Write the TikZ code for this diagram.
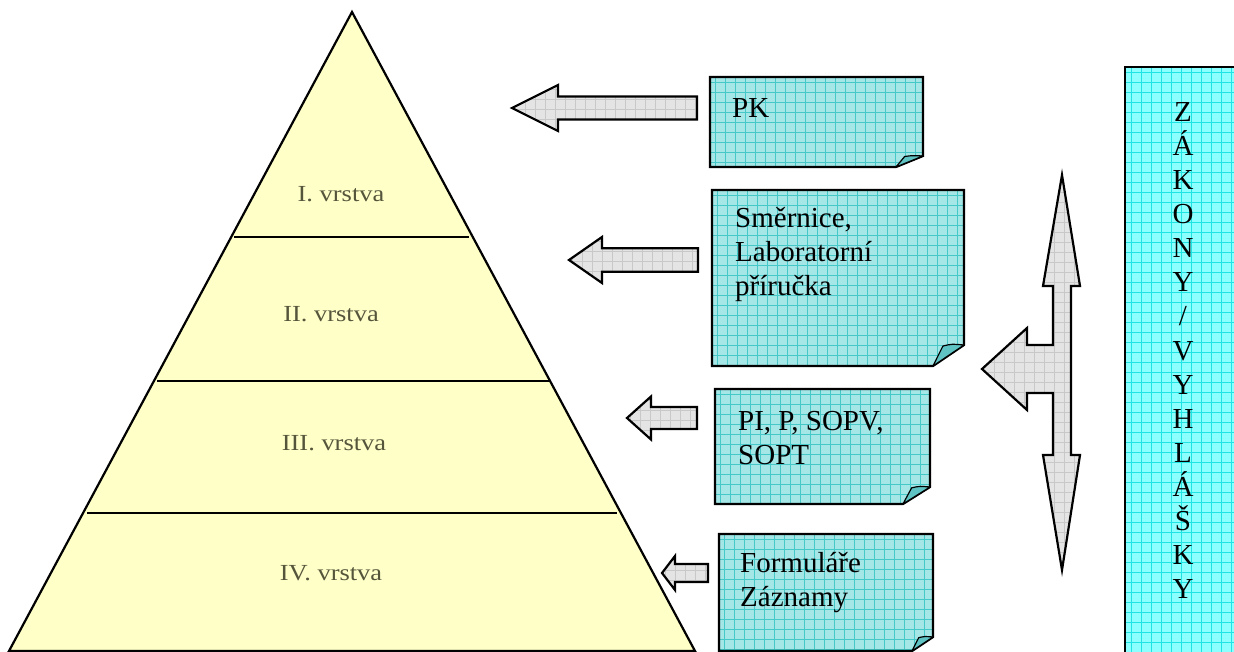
\documentclass[tikz,border=0pt]{standalone}
\usepackage{fontspec}
\setmainfont{Liberation Serif}
\newfontfamily\lblfont[FakeStretch=1.15]{Liberation Serif}
\definecolor{pyrfill}{RGB}{255,255,200}
\definecolor{lbltext}{RGB}{85,85,60}
\definecolor{notefillc}{RGB}{165,230,230}
\definecolor{notegridc}{RGB}{70,200,200}
\definecolor{foldc}{RGB}{95,195,195}
\definecolor{colfillc}{RGB}{140,255,255}
\definecolor{colgridc}{RGB}{30,228,228}
\definecolor{arrfillc}{RGB}{228,228,228}
\definecolor{arrgridc}{RGB}{200,200,200}
\tikzset{
  outline/.style={draw=black, line width=2.2pt, line join=miter},
  layerline/.style={draw=black, line width=1.8pt},
  lbl/.style={font=\lblfont\fontsize{23}{27}\selectfont, text=lbltext, anchor=base, inner sep=0pt},
  notetext/.style={font=\fontsize{29}{34}\selectfont, anchor=base west, inner sep=0pt},
  coltext/.style={font=\fontsize{29}{34}\selectfont, anchor=base, inner sep=0pt},
  notegrid/.style={draw=notegridc, line width=0.8pt},
  arrgrid/.style={draw=arrgridc, line width=0.7pt},
  colgrid/.style={draw=colgridc, line width=0.8pt}
}
% note: #1 L, #2 T, #3 R, #4 B, #5 dx, #6 dy
\newcommand\notebox[6]{%
  \begin{scope}
    \clip (#1,#2) -- (#3,#2) -- (#3,{#4-#6}) -- ({#3-#5},#4) -- (#1,#4) -- cycle;
    \fill[notefillc] (#1,#2) rectangle (#3,#4);
    \foreach \i in {0,...,26} \draw[notegrid] ({#1+5+10*\i},#2) -- ({#1+5+10*\i},#4);
    \foreach \i in {0,...,19} \draw[notegrid] (#1,{#2+5+10*\i}) -- (#3,{#2+5+10*\i});
  \end{scope}
  \draw[outline] (#1,#2) -- (#3,#2) -- (#3,{#4-#6}) -- ({#3-#5},#4) -- (#1,#4) -- cycle;
  \filldraw[fill=foldc, draw=black, line width=1.2pt, line join=round]
    ({#3-#5},#4) .. controls ({#3-0.8*#5},{#4-0.6*#6}) .. ({#3-0.68*#5},{#4-0.95*#6})
    .. controls ({#3-0.4*#5},{#4-1.05*#6}) .. (#3,{#4-#6}) -- cycle;
}
% left block arrow: #1 tipx, #2 tipy, #3 head back x, #4 head half, #5 shaft half, #6 tail x
\newcommand\blockarrow[6]{%
  \begin{scope}
    \clip (#1,#2) -- (#3,{#2-#4}) -- (#3,{#2-#5}) -- (#6,{#2-#5}) -- (#6,{#2+#5}) -- (#3,{#2+#5}) -- (#3,{#2+#4}) -- cycle;
    \fill[arrfillc] (#1,{#2-#4}) rectangle (#6,{#2+#4});
    \foreach \i in {0,...,20} \draw[arrgrid] ({#1+3+10*\i},{#2-#4}) -- ({#1+3+10*\i},{#2+#4});
    \foreach \i in {0,...,5} \draw[arrgrid] (#1,{#2-#4+4+10*\i}) -- (#6,{#2-#4+4+10*\i});
  \end{scope}
  \draw[outline] (#1,#2) -- (#3,{#2-#4}) -- (#3,{#2-#5}) -- (#6,{#2-#5}) -- (#6,{#2+#5}) -- (#3,{#2+#5}) -- (#3,{#2+#4}) -- cycle;
}
\begin{document}
\begin{tikzpicture}[x=1pt,y=-1pt]
\useasboundingbox (0,0) rectangle (1234,652);
\clip (0,0) rectangle (1234,652);

% ---------- pyramid ----------
\coordinate (apex) at (352,12);
\coordinate (bl) at (9,651);
\coordinate (br) at (695,651);
\fill[pyrfill] (apex) -- (br) -- (bl) -- cycle;
\coordinate (l1a) at (234,237); \coordinate (l1b) at (469,237);
\coordinate (l2a) at (157,381); \coordinate (l2b) at (549,381);
\coordinate (l3a) at (87,513);  \coordinate (l3b) at (617,513);
\draw[layerline] (l1a) -- (l1b);
\draw[layerline] (l2a) -- (l2b);
\draw[layerline] (l3a) -- (l3b);
\draw[outline] (apex) -- (br) -- (bl) -- cycle;
\node[lbl] (v1) at (341,202) {I. vrstva};
\node[lbl] (v2) at (331,321) {II. vrstva};
\node[lbl] (v3) at (334,450) {III. vrstva};
\node[lbl] (v4) at (331,580) {IV. vrstva};

% ---------- block arrows ----------
\blockarrow{512}{108}{558}{23}{11.5}{697}
\blockarrow{569}{260}{602}{23}{11.7}{698}
\blockarrow{627}{418}{651}{21.5}{11}{697}
\blockarrow{662}{573}{675}{17}{9}{708}

% ---------- notes ----------
\notebox{710}{77}{923}{167}{27}{11}
\notebox{712}{190}{964}{366}{31}{21}
\notebox{715}{389}{930}{504}{27}{17}
\notebox{719}{534}{933}{651}{21}{14}

\node[notetext] (pk) at (732,118) {PK};
\node[notetext] (sm) at (735,228) {\begin{tabular}[t]{@{}l@{}}Směrnice,\\Laboratorní\\příručka\end{tabular}};
\node[notetext] (pi) at (738,430) {\begin{tabular}[t]{@{}l@{}}PI, P, SOPV,\\SOPT\end{tabular}};
\node[notetext] (fo) at (740,572) {\begin{tabular}[t]{@{}l@{}}Formuláře\\Záznamy\end{tabular}};

% ---------- triple arrow ----------
\begin{scope}
  \clip (1062,175) -- (1080,286) -- (1071,286) -- (1071,455) -- (1080,455) -- (1062,570) -- (1043,455) -- (1053,455) -- (1053,393) -- (1027,393) -- (1027,410) -- (982,369) -- (1027,328) -- (1027,345) -- (1053,345) -- (1053,286) -- (1043,286) -- cycle;
  \fill[arrfillc] (980,170) rectangle (1085,575);
  \foreach \i in {0,...,11} \draw[arrgrid] ({984+10*\i},170) -- ({984+10*\i},575);
  \foreach \i in {0,...,41} \draw[arrgrid] (980,{172+10*\i}) -- (1085,{172+10*\i});
\end{scope}
\draw[outline] (1062,175) -- (1080,286) -- (1071,286) -- (1071,455) -- (1080,455) -- (1062,570) -- (1043,455) -- (1053,455) -- (1053,393) -- (1027,393) -- (1027,410) -- (982,369) -- (1027,328) -- (1027,345) -- (1053,345) -- (1053,286) -- (1043,286) -- cycle;

% ---------- right column ----------
\begin{scope}
  \clip (1125,67) rectangle (1245,665);
  \fill[colfillc] (1125,67) rectangle (1245,665);
  \foreach \i in {0,...,12} \draw[colgrid] ({1131+10*\i},67) -- ({1131+10*\i},665);
  \foreach \i in {0,...,60} \draw[colgrid] (1125,{72+10*\i}) -- (1245,{72+10*\i});
\end{scope}
\draw[outline] (1245,67) -- (1125,67) -- (1125,665);
\foreach \ch [count=\i from 0] in {Z,Á,K,O,N,Y,/,V,Y,H,L,Á,Š,K,Y}
  \node[coltext] (z\i) at (1183,{122+34*\i}) {\ch};
\end{tikzpicture}
\end{document}
